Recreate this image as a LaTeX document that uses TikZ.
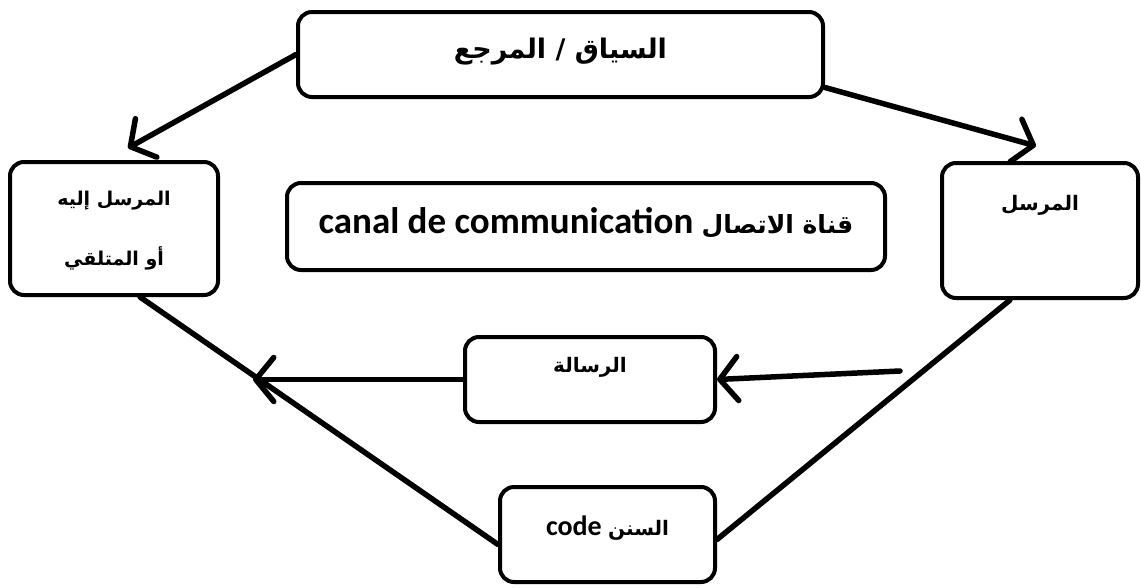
\documentclass[tikz,border=0pt]{standalone}
\usepackage{fontspec}
\setmainfont{Carlito}
\newfontfamily\arabicfont[Script=Arabic]{DejaVu Sans}
\TeXXeTstate=1
\usepackage{tikz}
\usetikzlibrary{arrows.meta}
\newcommand{\fsz}[1]{\fontsize{#1}{1.2\dimexpr#1pt\relax}\selectfont}

\begin{document}
\begin{tikzpicture}[x=1pt, y=-1pt,
  box/.style={rectangle, draw, line width=4pt, rounded corners=14pt, fill=white},
  txt/.style={font=\bfseries\fsz{19}, align=center},
  link/.style={line width=5.5pt, line cap=round},
  arr/.style={link, -{Straight Barb[length=18pt, width=44pt, round]}}
]
\useasboundingbox (0,0) rectangle (1141,587);

% boxes
\node[box, minimum width=525pt, minimum height=85pt,
  label={[txt, font=\bfseries\fsz{27}, yshift=3pt]center:{\arabicfont\beginR السياق / المرجع\endR}}] (context) at (560.5,54.5) {};
\node[box, minimum width=208pt, minimum height=133pt,
  label={[txt, yshift=-2pt]center:{\arabicfont\beginR المرسل إليه\endR}\\[35pt]{\arabicfont\beginR أو المتلقي\endR}}] (receiver) at (114,228.5) {};
\node[box, minimum width=598pt, minimum height=87pt,
  label={[txt, font=\bfseries\fsz{37}, yshift=4pt]center:canal de communication {\arabicfont\fsz{25}\beginR قناة الاتصال\endR}}] (canal) at (586,226.5) {};
\node[box, minimum width=196pt, minimum height=135pt,
  label={[txt, font=\bfseries\fsz{20}, yshift=25pt]center:{\arabicfont\beginR المرسل\endR}}] (sender) at (1040,230.5) {};
\node[box, minimum width=250pt, minimum height=85pt,
  label={[txt, font=\bfseries\fsz{20}, yshift=12pt]center:{\arabicfont\beginR الرسالة\endR}}] (message) at (590,379.5) {};
\node[box, minimum width=215pt, minimum height=95pt,
  label={[txt, font=\bfseries\fsz{28}, yshift=6pt]center:code {\arabicfont\fsz{20}\beginR السنن\endR}}] (code) at (607.5,534.5) {};

% free end of the message arrow
\coordinate (msgstart) at (900,371);

% connectors
\draw[arr] (context.west) -- ([shift={(14,-12)}]receiver.north);
\draw[arr] ([yshift=-33pt]context.east) -- ([shift={(-4,-15)}]sender.north);
\draw[link] ([xshift=26pt]receiver.south) -- ([yshift=-10pt]code.west);
\draw[link] ([xshift=-30pt]sender.south) -- ([yshift=-5pt]code.east);
\draw[arr] (message.west) -- ([xshift=-210pt]message.west);
\draw[arr] (msgstart) -- (message.east);
\end{tikzpicture}
\end{document}
